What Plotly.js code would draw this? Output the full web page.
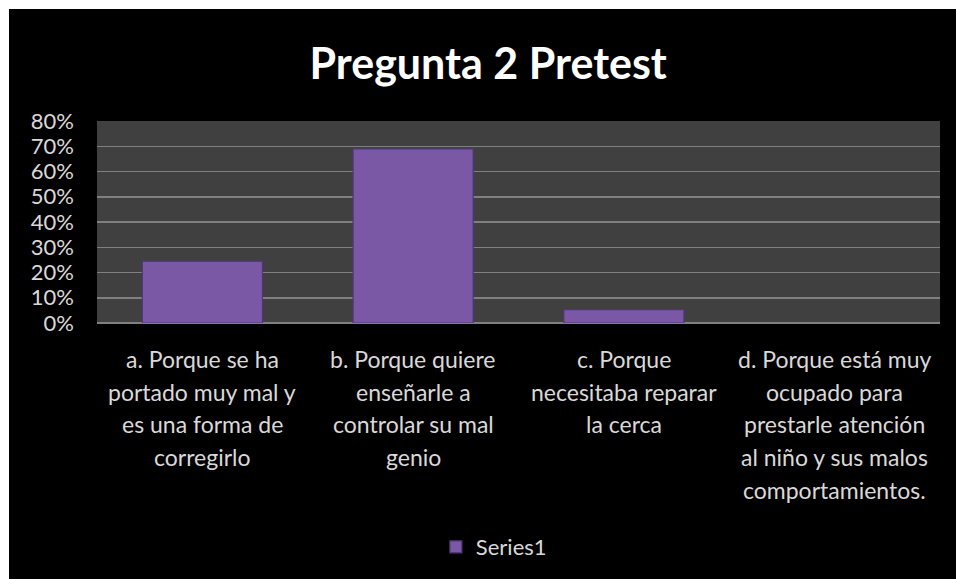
<!DOCTYPE html>
<html>
<head>
<meta charset="utf-8">
<script src="https://cdn.plot.ly/plotly-3.0.1.min.js"></script>
<style>
html,body{margin:0;padding:0;background:#ffffff;width:956px;height:579px;overflow:hidden;}
#chart{position:absolute;left:9px;top:9px;width:947px;height:570px;}
</style>
</head>
<body>
<div id="chart"></div>
<script>
var categories = ["a", "b", "c", "d"];
var categoryLabels = [
  ["a. Porque se ha", "portado muy mal y", "es una forma de", "corregirlo"],
  ["b. Porque quiere", "enseñarle a", "controlar su mal", "genio"],
  ["c. Porque", "necesitaba reparar", "la cerca"],
  ["d. Porque está muy", "ocupado para", "prestarle atención", "al niño y sus malos", "comportamientos."]
];
var seriesName = "Series1";
var values = [0.245, 0.69, 0.053, 0];
var yTickVals = [0, 0.1, 0.2, 0.3, 0.4, 0.5, 0.6, 0.7, 0.8];
var yTickText = ["0%", "10%", "20%", "30%", "40%", "50%", "60%", "70%", "80%"];
var titleText = "Pregunta 2 Pretest";

var FONT = "Lato, 'Open Sans', sans-serif";

var annotations = [];
categoryLabels.forEach(function (lines, ci) {
  lines.forEach(function (line, li) {
    annotations.push({
      x: categories[ci], xref: "x",
      y: 0, yref: "paper",
      yanchor: "middle", xanchor: "center",
      yshift: -36 - 32.7 * li,
      text: line, showarrow: false,
      font: {family: FONT, size: 23, color: "#d9d9d9"}
    });
  });
});

var trace = {
  type: "bar",
  x: categories,
  y: values,
  name: seriesName,
  marker: {
    color: "#7a58a6",
    line: {color: "#4e3674", width: values.map(function (v) { return v > 0 ? 1.2 : 0; })}
  },
  showlegend: true
};

var layout = {
  width: 947, height: 570,
  paper_bgcolor: "#000000",
  plot_bgcolor: "#404040",
  margin: {l: 88, r: 16, t: 112, b: 256},
  bargap: 0.43,
  title: {
    text: "<b>" + titleText + "</b>",
    x: 0.506, xref: "container", xanchor: "center",
    y: 1 - 55 / 570, yref: "container", yanchor: "middle",
    font: {family: FONT, size: 43, color: "#ffffff"}
  },
  xaxis: {
    type: "category",
    showticklabels: false,
    showgrid: false,
    zeroline: false,
    showline: false,
    ticks: ""
  },
  yaxis: {
    range: [0, 0.8],
    tickvals: yTickVals,
    ticktext: yTickText,
    showgrid: true,
    gridcolor: "#808080",
    gridwidth: 1.5,
    zeroline: true,
    zerolinecolor: "#808080",
    zerolinewidth: 1.5,
    showline: false,
    ticks: "",
    ticklabelstandoff: 22,
    tickfont: {family: FONT, size: 22, color: "#d9d9d9"},
    fixedrange: true
  },
  showlegend: true,
  legend: {
    orientation: "h",
    xref: "container", yref: "container",
    x: 0.512, xanchor: "center",
    y: 1 - 538 / 570, yanchor: "middle",
    bgcolor: "rgba(0,0,0,0)",
    font: {family: FONT, size: 22, color: "#d9d9d9"},
    itemwidth: 20
  },
  annotations: annotations
};

Plotly.newPlot("chart", [trace], layout, {displayModeBar: false, staticPlot: true});
</script>
</body>
</html>
